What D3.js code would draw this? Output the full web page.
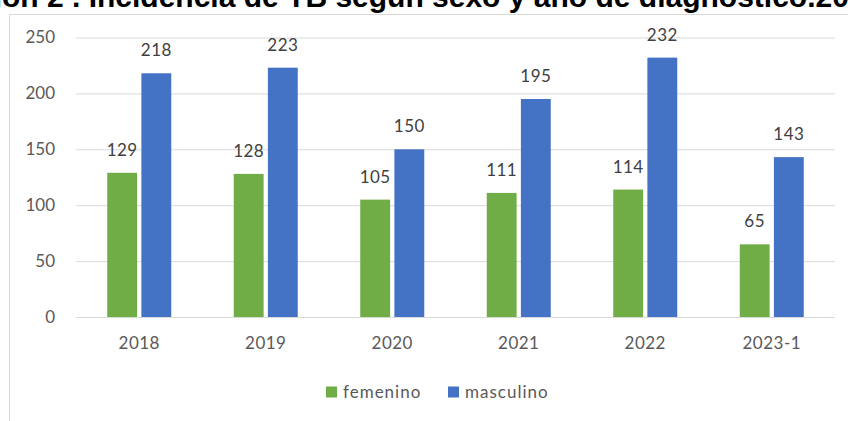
<!DOCTYPE html>
<html>
<head>
<meta charset="utf-8">
<script src="https://cdn.jsdelivr.net/npm/d3@7"></script>
<style>
  body { margin: 0; background: #fff; }
  svg { display: block; }
</style>
</head>
<body>
<div id="grafica"></div>
<script>
// data
var years = ["2018", "2019", "2020", "2021", "2022", "2023-1"];
var femenino = [129, 128, 105, 111, 114, 65];
var masculino = [218, 223, 150, 195, 232, 143];
var seriesNames = ["femenino", "masculino"];
var yTicks = [0, 50, 100, 150, 200, 250];

var W = 848, H = 421;
var colors = { femenino: "#70AD47", masculino: "#4472C4" };
var font = "Lato, 'Open Sans', sans-serif";

var svg = d3.select("#grafica")
  .append("svg")
  .attr("width", W)
  .attr("height", H);

// title (cut off at the top in the original)
var titleFont = "'Liberation Sans', Arial, sans-serif";
var title = svg.append("text")
  .attr("y", 7)
  .style("font-family", titleFont)
  .style("font-weight", "bold")
  .style("font-size", "30px")
  .style("fill", "#000")
  .text("Ilustración 2 . Incidencia de TB según sexo y año de diagnóstico.2018-2023");
var probe = svg.append("text")
  .style("font-family", titleFont)
  .style("font-weight", "bold")
  .style("font-size", "30px")
  .text("Ilustraci");
var shift = probe.node().getComputedTextLength();
probe.remove();
title.attr("x", -shift + 2);

// chart frame
svg.append("path")
  .attr("d", "M9.5," + H + "V14.5H" + W)
  .style("fill", "none")
  .style("stroke", "#D9D9D9")
  .style("stroke-width", 1);

var margin = { left: 76, right: 13 };
var plotW = W - margin.left - margin.right;

var x = d3.scaleBand()
  .domain(years)
  .range([margin.left, W - margin.right]);

var x1 = d3.scaleBand()
  .domain(seriesNames)
  .range([0, 64])
  .paddingInner(0.125);

var y = d3.scaleLinear()
  .domain([0, 250])
  .range([317, 37.5]);

// gridlines + tick labels
var yAxis = svg.append("g")
  .attr("transform", "translate(" + margin.left + ",0)")
  .call(d3.axisLeft(y).tickValues(yTicks).tickSize(-(plotW)).tickPadding(21));
yAxis.select(".domain").remove();
yAxis.selectAll(".tick line").style("stroke", "#D9D9D9");
yAxis.selectAll(".tick text")
  .style("font-family", font)
  .style("font-size", "17px")
  .style("fill", "#595959");

// x labels
var xAxis = svg.append("g")
  .attr("transform", "translate(0,317)")
  .call(d3.axisBottom(x).tickSize(0).tickPadding(20));
xAxis.select(".domain").remove();
xAxis.selectAll(".tick text")
  .style("font-family", font)
  .style("font-size", "17px")
  .style("letter-spacing", "0.5px")
  .style("fill", "#595959");

var rows = years.map(function (yr, i) {
  return { year: yr, femenino: femenino[i], masculino: masculino[i] };
});

var groups = svg.append("g")
  .selectAll("g")
  .data(rows)
  .enter()
  .append("g")
  .attr("transform", function (d) {
    return "translate(" + (x(d.year) + x.bandwidth() / 2 - 32) + ",0)";
  });

var cells = groups.selectAll("g")
  .data(function (d) {
    return seriesNames.map(function (s) { return { key: s, value: d[s] }; });
  })
  .enter()
  .append("g");

cells.append("rect")
  .attr("x", function (d) { return x1(d.key); })
  .attr("width", x1.bandwidth())
  .attr("y", function (d) { return y(d.value); })
  .attr("height", function (d) { return y(0) - y(d.value); })
  .style("fill", function (d) { return colors[d.key]; });

cells.append("text")
  .attr("x", function (d) { return x1(d.key) + x1.bandwidth() / 2; })
  .attr("y", function (d) { return y(d.value) - 17; })
  .attr("text-anchor", "middle")
  .style("font-family", font)
  .style("font-size", "17px")
  .style("letter-spacing", "0.5px")
  .style("fill", "#404040")
  .text(function (d) { return d.value; });

// legend
var legendX = [326, 448];
var legend = svg.append("g")
  .selectAll("g")
  .data(seriesNames)
  .enter()
  .append("g")
  .attr("transform", function (d, i) { return "translate(" + legendX[i] + ",392)"; });

legend.append("rect")
  .attr("x", 0)
  .attr("y", -5.5)
  .attr("width", 11)
  .attr("height", 11)
  .style("fill", function (d) { return colors[d]; });

legend.append("text")
  .attr("x", 17)
  .attr("dy", "0.35em")
  .style("font-family", font)
  .style("font-size", "17px")
  .style("letter-spacing", "1px")
  .style("fill", "#595959")
  .text(function (d) { return d; });
</script>
</body>
</html>
